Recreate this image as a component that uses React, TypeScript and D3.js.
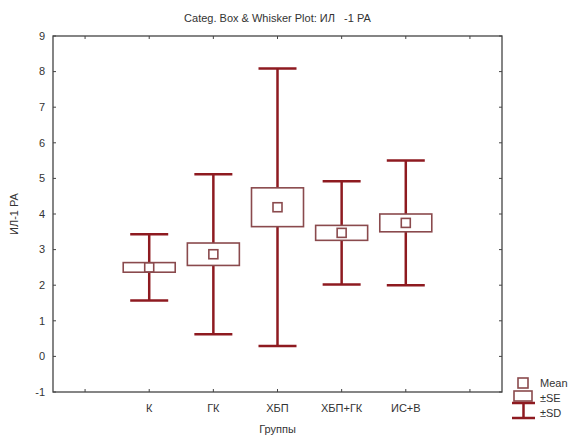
import React from 'react'
import * as d3 from 'd3'

// groups and stats
const groups = ['К', 'ГК', 'ХБП', 'ХБП+ГК', 'ИС+В']
const means = [2.5, 2.87, 4.19, 3.47, 3.75]
const se = [0.135, 0.315, 0.545, 0.21, 0.25]
const sd = [0.93, 2.25, 3.9, 1.45, 1.75]
const yTicks = [-1, 0, 1, 2, 3, 4, 5, 6, 7, 8, 9]

const W = 571
const H = 438
const M = { left: 53, right: 502, top: 36, bottom: 392 }
const WHISK = '#8e1a20'
const BOXC = '#8a4a4d'
const FONT = 'Arial, "Liberation Sans", sans-serif'
const TXT = '#333'

export default function App() {
  // 7 slots: an empty one on either side of the groups
  const slots = ['_l', ...groups, '_r']
  const x = d3.scaleBand().domain(slots).range([M.left, M.right])
  const y = d3.scaleLinear().domain([-1, 9]).range([M.bottom, M.top])
  const cx = (s: string) => (x(s) as number) + x.bandwidth() / 2

  const data = groups.map((g, i) => ({ g, mean: means[i], se: se[i], sd: sd[i] }))

  return (
    <svg width={W} height={H} style={{ position: 'absolute', left: 0, top: 0, background: '#fff' }}
      fontFamily={FONT}>
      <text x={(M.left + M.right) / 2} y={22} textAnchor="middle" fontSize={11} fill={TXT}
        style={{ whiteSpace: 'pre' }}>
        {'Categ. Box & Whisker Plot: ИЛ   -1 РА'}
      </text>

      {/* frame */}
      <rect x={M.left} y={M.top} width={M.right - M.left} height={M.bottom - M.top}
        fill="none" stroke="#444" strokeWidth={1.3} />

      {/* y ticks both sides */}
      {yTicks.map(t => (
        <g key={t}>
          <line x1={M.left} x2={M.left + 3} y1={y(t)} y2={y(t)} stroke="#444" />
          <line x1={M.right - 3} x2={M.right} y1={y(t)} y2={y(t)} stroke="#444" />
          <text x={M.left - 8} y={y(t)} dy="0.35em" textAnchor="end" fontSize={11} fill={TXT}>{t}</text>
        </g>
      ))}

      {/* x ticks top and bottom */}
      {slots.map(s => (
        <g key={s}>
          <line x1={cx(s)} x2={cx(s)} y1={M.bottom} y2={M.bottom - 3} stroke="#444" />
          <line x1={cx(s)} x2={cx(s)} y1={M.top} y2={M.top + 3} stroke="#444" />
        </g>
      ))}
      {groups.map(g => (
        <text key={g} x={cx(g)} y={412} textAnchor="middle" fontSize={11} fill={TXT}>{g}</text>
      ))}

      <text x={(M.left + M.right) / 2} y={433} textAnchor="middle" fontSize={11} fill={TXT}>Группы</text>
      <text transform={`translate(18,${(M.top + M.bottom) / 2}) rotate(-90)`} textAnchor="middle"
        fontSize={11} fill={TXT}>ИЛ-1 РА</text>

      {/* boxes */}
      {data.map(d => {
        const c = cx(d.g)
        return (
          <g key={d.g}>
            <line x1={c} x2={c} y1={y(d.mean + d.sd)} y2={y(d.mean - d.sd)} stroke={WHISK} strokeWidth={2.5} />
            <line x1={c - 19} x2={c + 19} y1={y(d.mean + d.sd)} y2={y(d.mean + d.sd)} stroke={WHISK} strokeWidth={2.5} />
            <line x1={c - 19} x2={c + 19} y1={y(d.mean - d.sd)} y2={y(d.mean - d.sd)} stroke={WHISK} strokeWidth={2.5} />
            <rect x={c - 26} y={y(d.mean + d.se)} width={52} height={y(d.mean - d.se) - y(d.mean + d.se)}
              fill="#fff" stroke={BOXC} strokeWidth={1.6} />
            <rect x={c - 4.5} y={y(d.mean) - 4.5} width={9} height={9} fill="#fff" stroke={BOXC} strokeWidth={1.6} />
          </g>
        )
      })}

      {/* legend */}
      <g fontSize={11} fill={TXT}>
        <rect x={518} y={378} width={10} height={10} fill="#fff" stroke={BOXC} strokeWidth={1.6} />
        <text x={540} y={383} dy="0.35em">Mean</text>
        <rect x={514} y={391} width={18} height={10} fill="#fff" stroke={BOXC} strokeWidth={1.6} />
        <text x={540} y={398} dy="0.35em">±SE</text>
        <line x1={512} x2={535} y1={403} y2={403} stroke={WHISK} strokeWidth={2.5} />
        <line x1={523.5} x2={523.5} y1={403} y2={418} stroke={WHISK} strokeWidth={2.5} />
        <line x1={512} x2={535} y1={418} y2={418} stroke={WHISK} strokeWidth={2.5} />
        <text x={540} y={413} dy="0.35em">±SD</text>
      </g>
    </svg>
  )
}
